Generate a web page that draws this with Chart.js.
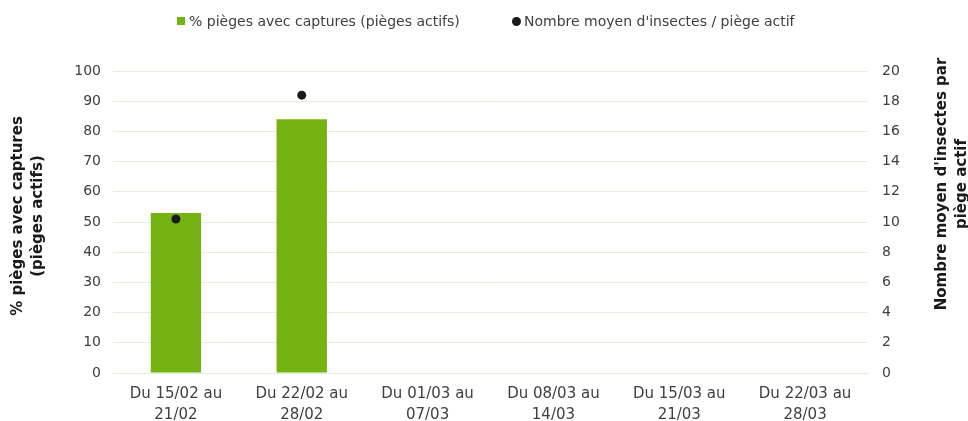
<!DOCTYPE html>
<html>
<head>
<meta charset="utf-8">
<script src="https://cdn.jsdelivr.net/npm/chart.js@4/dist/chart.umd.min.js"></script>
<style>
  html, body { margin: 0; padding: 0; background: #ffffff; }
  #wrap { position: relative; width: 968px; height: 421px; }
  #legend { position: absolute; top: 12px; left: 0; height: 18px; font-family: "DejaVu Sans", Verdana, sans-serif; font-size: 14px; color: #404040; line-height: 18px; white-space: nowrap; }
  #legend .item { position: absolute; top: 0; display: flex; align-items: center; height: 18px; }
  #legend .sq { width: 8px; height: 8px; background: rgb(117,179,18); margin-right: 4px; }
  #legend .dot { width: 9px; height: 9px; border-radius: 50%; background: #1a1a1a; margin-right: 3px; }
</style>
</head>
<body>
<div id="wrap">
  <canvas id="c" width="968" height="421"></canvas>
  <div id="legend">
    <div class="item" style="left:177px"><span class="sq"></span><span id="lg1"></span></div>
    <div class="item" style="left:512px"><span class="dot"></span><span id="lg2"></span></div>
  </div>
</div>
<script>
const categories = [
  ['Du 15/02 au', '21/02'],
  ['Du 22/02 au', '28/02'],
  ['Du 01/03 au', '07/03'],
  ['Du 08/03 au', '14/03'],
  ['Du 15/03 au', '21/03'],
  ['Du 22/03 au', '28/03']
];
const pctTrapsWithCatches = [53, 84, null, null, null, null];
const meanInsectsPerTrap = [10.2, 18.4, null, null, null, null];
const seriesNames = ['% pièges avec captures (pièges actifs)', "Nombre moyen d'insectes / piège actif"];
const leftTitle = ['% pièges avec captures', '(pièges actifs)'];
const rightTitle = ["Nombre moyen d'insectes par", 'piège actif'];

document.getElementById('lg1').textContent = seriesNames[0];
document.getElementById('lg2').textContent = seriesNames[1];

const FONT = '"DejaVu Sans", Verdana, sans-serif';
const GRID = 'rgb(226,239,217)';
const TICK = '#404040';

const titlePlugin = {
  id: 'axisTitles',
  afterDraw(chart) {
    const ctx = chart.ctx;
    ctx.save();
    ctx.fillStyle = '#1a1a1a';
    ctx.font = 'bold 15px ' + FONT;
    ctx.textAlign = 'center';
    ctx.textBaseline = 'middle';
    // left title
    ctx.save();
    ctx.translate(18, 216);
    ctx.rotate(-Math.PI / 2);
    leftTitle.forEach((t, i) => ctx.fillText(t, 0, i * 20));
    ctx.restore();
    // right title
    ctx.save();
    ctx.translate(942, 184);
    ctx.rotate(-Math.PI / 2);
    rightTitle.forEach((t, i) => ctx.fillText(t, 0, i * 20));
    ctx.restore();
    ctx.restore();
  }
};

new Chart(document.getElementById('c'), {
  data: {
    labels: categories,
    datasets: [
      {
        type: 'line',
        label: seriesNames[1],
        data: meanInsectsPerTrap,
        yAxisID: 'y1',
        showLine: false,
        pointRadius: 4.5,
        pointHoverRadius: 4.5,
        pointBackgroundColor: '#1a1a1a',
        pointBorderColor: '#1a1a1a',
        pointBorderWidth: 0,
        order: 0
      },
      {
        type: 'bar',
        label: seriesNames[0],
        data: pctTrapsWithCatches,
        yAxisID: 'y',
        backgroundColor: 'rgb(117,179,18)',
        borderWidth: 0,
        barPercentage: 0.4,
        categoryPercentage: 1,
        order: 1
      }
    ]
  },
  options: {
    responsive: false,
    animation: false,
    events: [],
    layout: { padding: { top: 71, left: 0, right: 0, bottom: 0 } },
    plugins: { legend: { display: false }, tooltip: { enabled: false } },
    scales: {
      x: {
        offset: true,
        grid: { display: false, drawTicks: false },
        border: { display: true, color: GRID, width: 1 },
        ticks: { color: TICK, font: { family: FONT, size: 15, lineHeight: 1.4 }, padding: 11, maxRotation: 0, autoSkip: false },
        afterFit(s) { s.height = 48; }
      },
      y: {
        position: 'left',
        min: 0, max: 100,
        ticks: { stepSize: 10, color: TICK, font: { family: FONT, size: 14 }, padding: 12 },
        grid: { color: GRID, lineWidth: 1, drawTicks: false },
        border: { display: false },
        afterFit(s) { s.width = 113; }
      },
      y1: {
        position: 'right',
        min: 0, max: 20,
        ticks: { stepSize: 2, color: TICK, font: { family: FONT, size: 14 }, padding: 14 },
        grid: { display: false, drawTicks: false },
        border: { display: false },
        afterFit(s) { s.width = 100; }
      }
    }
  },
  plugins: [titlePlugin]
});
</script>
</body>
</html>
